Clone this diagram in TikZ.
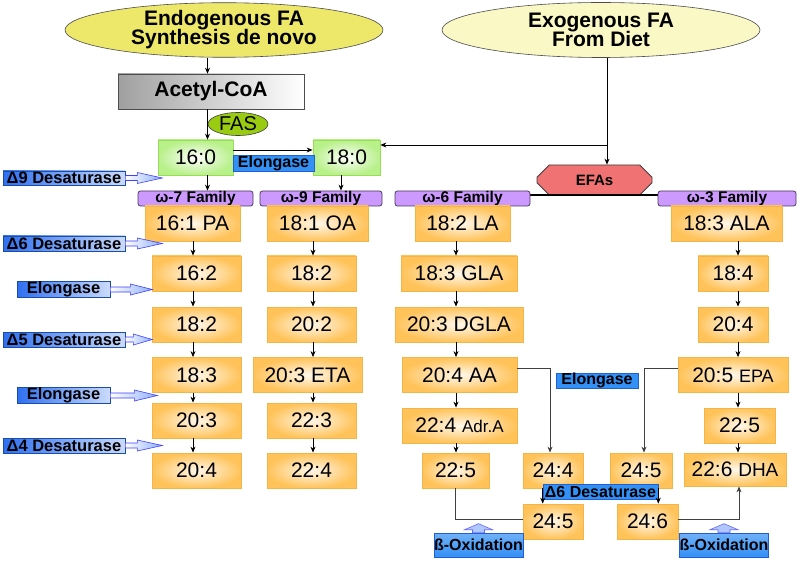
\documentclass[tikz,border=0pt]{standalone}
\usepackage{fontspec}
\setmainfont{Liberation Sans}
\usetikzlibrary{arrows.meta,shapes.geometric,shapes.misc,calc}
\definecolor{orng}{HTML}{FFC35A}
\definecolor{orngb}{HTML}{F5B449}
\definecolor{grnf}{HTML}{B8F08A}
\definecolor{grnb}{HTML}{99DD55}
\definecolor{yel}{HTML}{EEE86A}
\definecolor{pyel}{HTML}{FAF8C4}
\definecolor{fasg}{HTML}{99CC11}
\definecolor{efar}{HTML}{F07272}
\definecolor{purp}{HTML}{CC99FF}
\definecolor{purpb}{HTML}{4A3A5A}
\definecolor{blu}{HTML}{3390F5}
\definecolor{bluD}{HTML}{2060D0}
\definecolor{bluL}{HTML}{2F6FF0}
\definecolor{arrL}{HTML}{8FB0FF}
\newcommand\fsz[1]{\fontsize{#1}{#1}\selectfont}
\tikzset{
  fa/.style={rectangle, draw=orngb, line width=0.8pt, inner color=orng!12, outer color=orng, inner sep=0pt, font=\fsz{21}, text=black},
  gbox/.style={rectangle, draw=grnb, line width=0.8pt, inner color=white, outer color=grnf, inner sep=0pt, font=\fsz{21}, minimum height=35},
  fam/.style={rectangle, rounded corners=2.5pt, draw=purpb, line width=0.8pt, fill=purp, inner sep=0pt, font=\bfseries\fsz{15.5}, minimum height=15},
  midlbl/.style={rectangle, draw=bluD, line width=0.6pt, fill=blu, inner sep=0pt, font=\bfseries\fsz{16}, minimum height=15},
  leftlbl/.style={rectangle, draw=bluD!80!black, line width=0.6pt, left color=bluL, right color=bluL!25, inner sep=0pt, font=\bfseries\fsz{16.5}, minimum height=15},
  boxlbl/.style={rectangle, draw=bluD, line width=0.6pt, top color=blu!70, bottom color=blu, inner sep=0pt, font=\bfseries\fsz{16}, minimum height=24},
  barr/.style={draw=blue!75, line width=0.6pt, left color=white, right color=arrL},
  uarr/.style={draw=blue!60, line width=0.6pt, fill=arrL!70},
  arr/.style={draw=black, line width=0.8pt, -{Stealth[length=6pt,width=5pt]}},
  garr/.style={draw=black!75, line width=0.8pt, -{Stealth[length=6pt,width=5pt]}},
  gline/.style={draw=black!75, line width=0.8pt},
}
\newcommand\rarrow[3]{\draw[barr] (#1.east) ++(0,-2.5) -- ++(#2,0) -- ++(0,-3) -- ++(#3,5.5) -- ++(-#3,5.5) -- ++(0,-3) -- ++(-#2,0) -- cycle;}
\newcommand\uparrowshape[1]{\draw[uarr] (#1.north) ++(-6,0) -- ++(0,-3) -- ++(-8,0) -- ++(14,-6) -- ++(14,6) -- ++(-8,0) -- ++(0,3) -- cycle;}
\begin{document}
\begin{tikzpicture}[x=1pt,y=-1pt]
\useasboundingbox (0,0) rectangle (800,561);
\fill[white] (0,0) rectangle (800,561);
% column x coordinates
\coordinate (ax) at (207.5,0);
\coordinate (bx) at (341,0);
\coordinate (colA) at (193,0);
\coordinate (colB) at (313,0);
\coordinate (colC) at (456,0);
\coordinate (colD) at (738,0);
\coordinate (jx) at (607,145);
% top
\node[ellipse, draw=black!70, line width=0.6pt, fill=yel, minimum width=318, minimum height=54, inner sep=0pt, align=center, font=\bfseries\fsz{21}] (endo) at (224,30) {Endogenous FA\\[-2pt]Synthesis de novo};
\node[ellipse, draw=black!70, line width=0.6pt, fill=pyel, minimum width=318, minimum height=55, inner sep=0pt, align=center, font=\bfseries\fsz{21}] (exo) at (601,30) {Exogenous FA\\[-2pt]From Diet};
\node[rectangle, draw=black!70, line width=0.6pt, left color=gray!75, right color=white, minimum width=186, minimum height=35, inner sep=0pt, font=\bfseries\fsz{21}] (acetyl) at (211,91.5) {Acetyl-CoA};
\node[ellipse, draw=black!75, line width=0.6pt, fill=fasg, minimum width=60, minimum height=23, inner sep=0pt, font=\fsz{20}] (fas) at (238,124) {FAS};
\node[gbox, minimum width=75] (b160) at (195.5,157.5) {16:0};
\node[gbox, minimum width=67] (b180) at (346.5,157.5) {18:0};
\node[midlbl, minimum width=81, minimum height=16] (elo1) at (273.5,163) {Elongase};
\node[chamfered rectangle, chamfered rectangle xsep=8pt, chamfered rectangle ysep=7pt, draw=black!75, line width=0.8pt, fill=efar, minimum width=115, minimum height=30, inner sep=0pt, font=\bfseries\fsz{15}] (efa) at (594.5,180) {EFAs};
% EFA bar
\draw[line width=1.6pt] (530,195) -- (658,195);
% families
\node[fam, minimum width=115] (w7) at (195.5,198.5) {ω-7 Family};
\node[fam, minimum width=122] (w9) at (321,198.5) {ω-9 Family};
\node[fam, minimum width=135] (w6) at (462.5,198.5) {ω-6 Family};
\node[fam, minimum width=138] (w3) at (727,198.5) {ω-3 Family};
% omega-7
\node[fa, minimum width=95, minimum height=35] (a1) at (192.5,223.5) {16:1 PA};
\node[fa, minimum width=89, minimum height=35] (a2) at (196.5,273.5) {16:2};
\node[fa, minimum width=89, minimum height=35] (a3) at (196.5,324.5) {18:2};
\node[fa, minimum width=89, minimum height=35] (a4) at (196.5,375) {18:3};
\node[fa, minimum width=89, minimum height=35] (a5) at (196.5,420.5) {20:3};
\node[fa, minimum width=89, minimum height=35] (a6) at (196.5,470.5) {20:4};
% omega-9
\node[fa, minimum width=101, minimum height=35] (b1) at (317.5,223.5) {18:1 OA};
\node[fa, minimum width=89, minimum height=35] (b2) at (311.5,273.5) {18:2};
\node[fa, minimum width=89, minimum height=35] (b3) at (311.5,324.5) {20:2};
\node[fa, minimum width=109, minimum height=35] (b4) at (307.5,375) {20:3 ETA};
\node[fa, minimum width=89, minimum height=35] (b5) at (311.5,420.5) {22:3};
\node[fa, minimum width=89, minimum height=35] (b6) at (311.5,470.5) {22:4};
% omega-6
\node[fa, minimum width=95, minimum height=35] (c1) at (462.5,223.5) {18:2 LA};
\node[fa, minimum width=116, minimum height=35] (c2) at (459,273.5) {18:3 GLA};
\node[fa, minimum width=128, minimum height=35] (c3) at (459,324.5) {20:3 DGLA};
\node[fa, minimum width=115, minimum height=35] (c4) at (459.5,375) {20:4 AA};
\node[fa, minimum width=115, minimum height=35] (c5) at (459.5,425.5) {22:4 {\fsz{17}Adr.A}};
\node[fa, minimum width=67, minimum height=35] (c6) at (455.5,470.5) {22:5};
% omega-3
\node[fa, minimum width=111, minimum height=35] (d1) at (726.5,223.5) {18:3 ALA};
\node[fa, minimum width=70, minimum height=35] (d2) at (733,273.5) {18:4};
\node[fa, minimum width=70, minimum height=35] (d3) at (733,324.5) {20:4};
\node[fa, minimum width=110, minimum height=35] (d4) at (733,375) {20:5 {\fsz{18}EPA}};
\node[fa, minimum width=71, minimum height=35] (d5) at (739.5,425.5) {22:5};
\node[fa, minimum width=102, minimum height=33] (d6) at (735,469.5) {22:6 {\fsz{19}DHA}};
% middle
\node[fa, minimum width=60, minimum height=35] (m1) at (553,470.5) {24:4};
\node[fa, minimum width=62, minimum height=35] (m2) at (641,470.5) {24:5};
\node[fa, minimum width=60, minimum height=35] (m3) at (553,521.5) {24:5};
\node[fa, minimum width=61, minimum height=35] (m4) at (647.5,521.5) {24:6};
\node[midlbl, minimum width=82] (elo2) at (597,380.5) {Elongase};
\node[midlbl, minimum width=115] (d6m) at (600.5,491.5) {Δ6 Desaturase};
\node[boxlbl, minimum width=89] (bo1) at (478.5,545) {ß-Oxidation};
\node[boxlbl, minimum width=88] (bo2) at (724,545) {ß-Oxidation};
\uparrowshape{bo1}
\uparrowshape{bo2}
% left labels
\node[leftlbl, minimum width=122, minimum height=14] (L1) at (64,178) {Δ9 Desaturase};
\node[leftlbl, minimum width=122] (L2) at (64,243.5) {Δ6 Desaturase};
\node[leftlbl, minimum width=93] (L3) at (63.5,289.5) {Elongase};
\node[leftlbl, minimum width=122] (L4) at (64,339.5) {Δ5 Desaturase};
\node[leftlbl, minimum width=93] (L5) at (63.5,395.5) {Elongase};
\node[leftlbl, minimum width=122] (L6) at (64,445.5) {Δ4 Desaturase};
\rarrow{L1}{12}{25}
\rarrow{L2}{12}{25}
\rarrow{L3}{20}{22}
\rarrow{L4}{8}{19}
\rarrow{L5}{24}{23}
\rarrow{L6}{12}{25}
% connectors top
\draw[arr] (endo.south -| ax) -- (acetyl.north -| ax);
\draw[arr] (acetyl.south -| ax) -- (b160.north -| ax);
\draw[arr] ([yshift=7.5pt]b160.east) -- ([yshift=7.5pt]b180.west);
\draw[line width=0.8pt] (exo.south -| jx) -- (jx);
\draw[arr] (jx) -- (jx -| b180.east);
\draw[arr] (jx) -- (jx |- efa.north);
\draw[arr] (b160.south -| ax) -- (w7.north -| ax);
\draw[arr] (b180.south -| bx) -- (w9.north -| bx);
% column arrows
\foreach \u/\v in {a1/a2,a2/a3,a3/a4,a4/a5,a5/a6}{\draw[arr] (\u.south -| colA) -- (\v.north -| colA);}
\foreach \u/\v in {b1/b2,b2/b3,b3/b4,b4/b5,b5/b6}{\draw[arr] (\u.south -| colB) -- (\v.north -| colB);}
\foreach \u/\v in {c1/c2,c2/c3,c3/c4,c4/c5,c5/c6}{\draw[arr] (\u.south -| colC) -- (\v.north -| colC);}
\foreach \u/\v in {d1/d2,d2/d3,d3/d4,d4/d5,d5/d6}{\draw[arr] (\u.south -| colD) -- (\v.north -| colD);}
% lower connectors
\draw[garr] ([yshift=7pt]c4.east) -| ([xshift=-3pt]m1.north);
\draw[garr] ([yshift=7pt]d4.west) -| ([xshift=3pt]m2.north);
\draw[arr] (m1.south -| d6m.west) -- (m3.north -| d6m.west);
\draw[arr] (m2.south -| d6m.east) -- (m4.north -| d6m.east);
\draw[gline] (c6.south) |- ([yshift=2pt]m3.west);
\draw[garr] ([yshift=2pt]m4.east) -| ([xshift=4pt]d6.south);
\end{tikzpicture}
\end{document}
